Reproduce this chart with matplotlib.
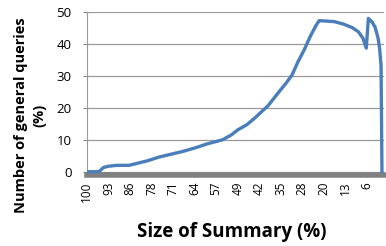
import matplotlib.pyplot as plt

# summary size (%) and share of general queries (%)
sizes = [100, 96, 94.5, 93, 90, 86, 83, 80, 76, 72, 68, 64, 60, 57, 55, 52, 50, 47, 44,
         42, 40, 38, 36, 34, 32, 30, 28, 26, 24, 23, 21, 18, 15, 12, 10, 8.5, 7.4, 6.7,
         5.5, 4.5, 3.5, 3.0, 2.5, 2.2]
queries = [0, 0, 1.3, 1.7, 2.0, 2.0, 2.7, 3.4, 4.6, 5.5, 6.4, 7.5, 8.75, 9.5, 10, 11.6,
           13.1, 14.7, 17.1, 18.9, 20.6, 23, 25.4, 27.7, 30.3, 34.5, 38.1, 42.3, 45.9,
           47.3, 47.2, 47, 46.25, 45.1, 43.8, 41.8, 38.7, 48, 46.9, 45.3, 41.9, 38.7,
           33.4, 0]

tick_labels = ['100', '93', '86', '78', '71', '64', '57', '49', '42', '35', '28', '20', '13', '6']
tick_pos = [100 - 100 / 14 * i for i in range(len(tick_labels))]

fig = plt.figure(figsize=(3.86, 2.46), dpi=100)
ax = fig.add_axes([0.225, 0.289, 0.77, 0.662])

ax.plot(sizes, queries, color='#4a7ebb', lw=2.4, solid_joinstyle='round', zorder=3)

ax.set_xlim(100, 1.5)
ax.set_ylim(-1, 50)
ax.set_yticks([0, 10, 20, 30, 40, 50])
ax.set_xticks(tick_pos)
ax.set_xticklabels(tick_labels, rotation=90, fontsize=8.5, family='Open Sans')
ax.tick_params(axis='x', length=0, pad=5)
ax.tick_params(axis='y', length=3, color='#888888', labelsize=9.5, pad=8)
for lab in ax.get_yticklabels():
    lab.set_family('Open Sans')

ax.grid(axis='y', color='#999999', lw=0.9)
ax.set_axisbelow(True)
for s in ['top', 'right']:
    ax.spines[s].set_visible(False)
ax.spines['left'].set_color('#999999')
ax.spines['bottom'].set_color('#808080')
ax.spines['bottom'].set_linewidth(4)

fig.text(232 / 386, 0.057, 'Size of Summary (%)', fontsize=13.5, fontweight='bold',
         family='Open Sans', ha='center', va='center')
fig.text(30 / 386, 0.53, 'Number of general queries\n(%)', fontsize=10.5, fontweight='bold',
         family='Open Sans', rotation=90, ha='center', va='center', multialignment='center',
         linespacing=1.45)

fig.savefig('out.png', dpi=100)
